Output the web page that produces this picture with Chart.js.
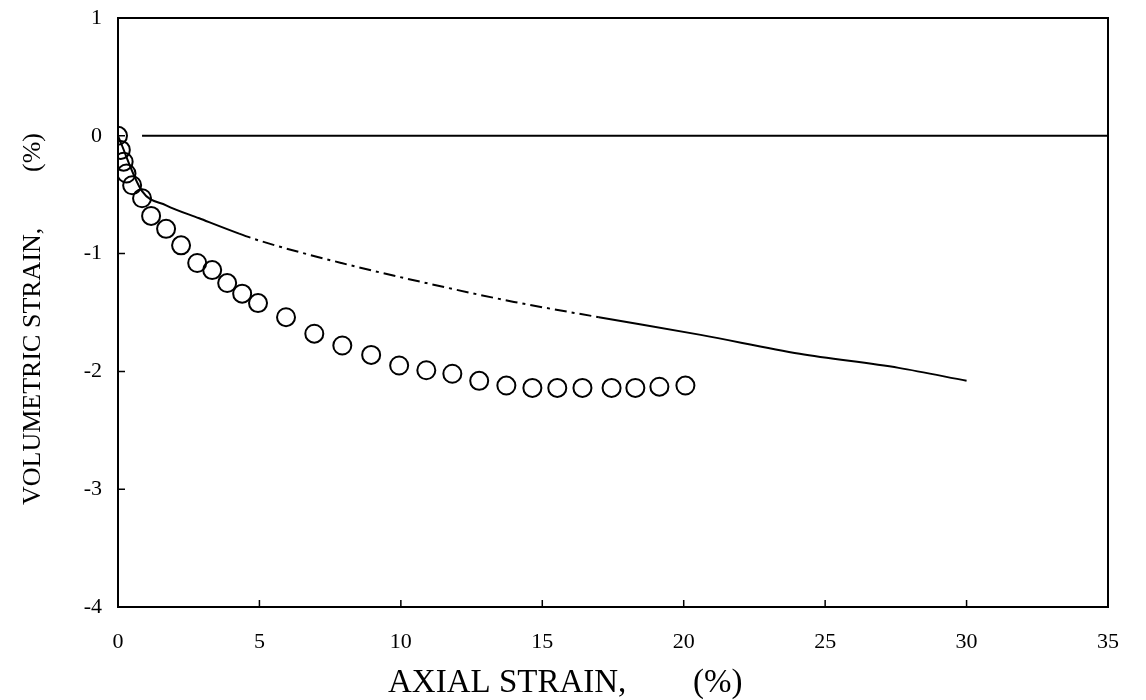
<!DOCTYPE html>
<html>
<head>
<meta charset="utf-8">
<script src="https://cdn.jsdelivr.net/npm/chart.js@4/dist/chart.umd.min.js"></script>
<style>
  html, body { margin: 0; padding: 0; background: #fff; }
  #wrap { width: 1146px; height: 700px; position: relative; }
</style>
</head>
<body>
<div id="wrap"><canvas id="c"></canvas></div>
<script>
// Measured test points: axial strain (%) vs volumetric strain (%)
const testAxial = [0, 0.1, 0.2, 0.3, 0.5, 0.85, 1.17, 1.7, 2.23, 2.8, 3.33, 3.86, 4.39, 4.95,
  5.94, 6.94, 7.93, 8.95, 9.94, 10.9, 11.82, 12.77, 13.73, 14.65, 15.53, 16.42, 17.45, 18.29, 19.14, 20.06];
const testVolumetric = [0, -0.12, -0.22, -0.32, -0.42, -0.53, -0.68, -0.79, -0.93, -1.08, -1.14, -1.25, -1.34, -1.42,
  -1.54, -1.68, -1.78, -1.86, -1.95, -1.99, -2.02, -2.08, -2.12, -2.14, -2.14, -2.14, -2.14, -2.14, -2.13, -2.12];

// Computed (model) curve
const modelAxial = [0, 0.85, 1.7, 2.87, 4.28, 5.0, 7.9, 10.9, 14.0, 17.0, 20.6, 24.1, 27.6, 30.0];
const modelVolumetric = [0, -0.47, -0.59, -0.70, -0.83, -0.89, -1.08, -1.25, -1.41, -1.54, -1.69, -1.85, -1.97, -2.08];

// Zero reference line
const zeroAxial = [0.85, 35];
const zeroVolumetric = [0, 0];

// Axis ticks
const xTicks = [0, 5, 10, 15, 20, 25, 30, 35];
const yTicks = [1, 0, -1, -2, -3, -4];

const xTitle = 'AXIAL STRAIN,';
const xUnit = '(%)';
const yTitle = 'VOLUMETRIC STRAIN,';
const yUnit = '(%)';

const SERIF = '"Liberation Serif", "DejaVu Serif", serif';

const toPts = (xs, ys) => xs.map((x, i) => ({ x: x, y: ys[i] }));

// Frame, inward tick marks and axis titles
const framePlugin = {
  id: 'frame',
  afterDraw(chart) {
    const { ctx, chartArea: a, scales } = chart;
    ctx.save();
    ctx.strokeStyle = '#000';
    ctx.lineWidth = 2;
    ctx.strokeRect(a.left, a.top, a.right - a.left, a.bottom - a.top);
    ctx.lineWidth = 1.5;
    ctx.beginPath();
    xTicks.forEach(v => {
      const px = scales.x.getPixelForValue(v);
      ctx.moveTo(px, a.bottom);
      ctx.lineTo(px, a.bottom - 7);
    });
    yTicks.forEach(v => {
      const py = scales.y.getPixelForValue(v);
      ctx.moveTo(a.left, py);
      ctx.lineTo(a.left + 7, py);
    });
    ctx.stroke();

    ctx.fillStyle = '#000';
    ctx.textBaseline = 'middle';
    ctx.textAlign = 'left';
    ctx.font = '33px ' + SERIF;
    ctx.fillText(xTitle, 388, 683);
    ctx.fillText(xUnit, 693, 683);

    ctx.font = '26px ' + SERIF;
    ctx.translate(33, 0);
    ctx.rotate(-Math.PI / 2);
    ctx.fillText(yTitle, -505, 0);
    ctx.fillText(yUnit, -172, 0);
    ctx.restore();
  }
};

new Chart(document.getElementById('c'), {
  type: 'scatter',
  data: {
    datasets: [
      {
        label: 'test',
        data: toPts(testAxial, testVolumetric),
        showLine: false,
        pointStyle: 'circle',
        pointRadius: 9,
        pointBorderWidth: 2,
        pointBorderColor: '#000',
        pointBackgroundColor: 'rgba(0,0,0,0)',
        order: 1
      },
      {
        label: 'model',
        data: toPts(modelAxial, modelVolumetric),
        showLine: true,
        pointRadius: 0,
        borderColor: '#000',
        borderWidth: 2,
        cubicInterpolationMode: 'monotone',
        segment: {
          borderDash: c => (c.p0.parsed.x >= 4 && c.p1.parsed.x <= 17.5) ? [12, 5, 3, 5] : undefined
        },
        order: 2
      },
      {
        label: 'zero',
        data: toPts(zeroAxial, zeroVolumetric),
        showLine: true,
        pointRadius: 0,
        borderColor: '#000',
        borderWidth: 2,
        order: 3
      }
    ]
  },
  options: {
    responsive: true,
    maintainAspectRatio: false,
    animation: false,
    layout: { padding: { left: 0, top: 18, right: 38, bottom: 0 } },
    plugins: { legend: { display: false }, tooltip: { enabled: false } },
    scales: {
      x: {
        type: 'linear',
        min: 0, max: 35,
        afterBuildTicks: s => { s.ticks = xTicks.map(v => ({ value: v })); },
        afterFit: s => { s.height = 93; s.paddingLeft = 0; s.paddingRight = 0; },
        grid: { display: false, drawTicks: false },
        border: { display: false },
        ticks: { padding: 22, color: '#000', font: { family: SERIF, size: 22 } }
      },
      y: {
        type: 'linear',
        min: -4, max: 1,
        afterBuildTicks: s => { s.ticks = yTicks.map(v => ({ value: v })); },
        afterFit: s => { s.width = 118; s.paddingTop = 0; s.paddingBottom = 0; },
        grid: { display: false, drawTicks: false },
        border: { display: false },
        ticks: { padding: 16, color: '#000', font: { family: SERIF, size: 22 } }
      }
    }
  },
  plugins: [framePlugin]
});
</script>
</body>
</html>
